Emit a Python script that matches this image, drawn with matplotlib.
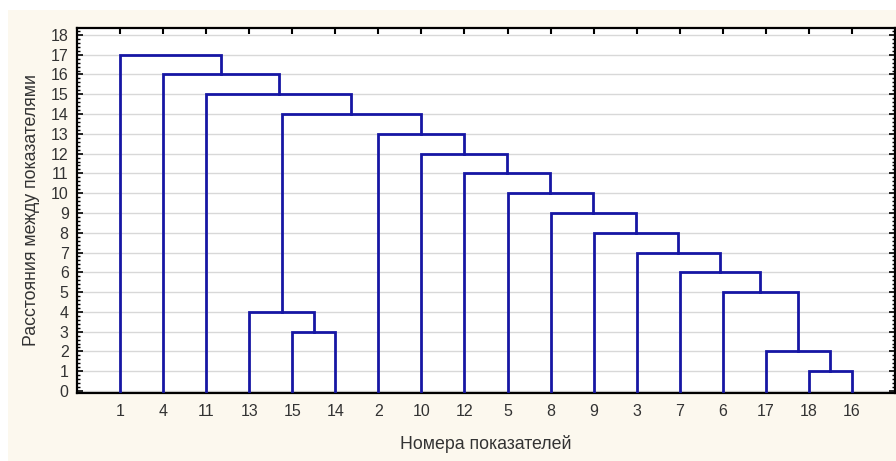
import matplotlib
matplotlib.use("Agg")
import matplotlib.pyplot as plt
from matplotlib.patches import Rectangle
from matplotlib.ticker import MultipleLocator

plt.rcParams['font.family'] = ['Liberation Sans', 'DejaVu Sans']

# Leaf order along the x axis
leaf_labels = ["1", "4", "11", "13", "15", "14", "2", "10", "12",
               "5", "8", "9", "3", "7", "6", "17", "18", "16"]

# Merges: (left cluster, right cluster, joining distance)
# Clusters are referenced by leaf label or by the index "c<k>" of an earlier merge
merge_left = ["18", "17", "6", "7", "3", "9", "8", "5", "12", "10", "2",
              "15", "13", "c12", "11", "4", "1"]
merge_right = ["16", "c0", "c1", "c2", "c3", "c4", "c5", "c6", "c7", "c8", "c9",
               "14", "c11", "c10", "c13", "c14", "c15"]
merge_height = [1, 2, 5, 6, 7, 8, 9, 10, 11, 12, 13,
                3, 4, 14, 15, 16, 17]

y_ticks = list(range(0, 19))

line_color = "#1616a4"
text_color = "#333333"

W, H = 896, 461
fig = plt.figure(figsize=(W / 100, H / 100), dpi=100)
fig.patch.set_facecolor("white")
fig.patches.append(Rectangle((8 / W, 0), 1 - 8 / W, 1 - 10 / H,
                             transform=fig.transFigure, facecolor="#fcf8ee",
                             edgecolor="none", zorder=-10))

ax_left, ax_right, ax_top, ax_bottom = 77, 895, 28, 393
ax = fig.add_axes([ax_left / W, 1 - ax_bottom / H,
                   (ax_right - ax_left) / W, (ax_bottom - ax_top) / H])
ax.set_facecolor("white")

pos = {lab: (i + 1, 0.0) for i, lab in enumerate(leaf_labels)}
for k, (a, b, h) in enumerate(zip(merge_left, merge_right, merge_height)):
    xa, ya = pos[a]
    xb, yb = pos[b]
    ax.plot([xa, xa, xb, xb], [ya, h, h, yb], color=line_color, lw=2.0,
            solid_joinstyle="miter", zorder=3)
    pos["c%d" % k] = ((xa + xb) / 2, h)

ax.set_xlim(0, len(leaf_labels) + 1)
ax.set_ylim(-0.1, 18.35)

ax.set_xticks(range(1, len(leaf_labels) + 1))
ax.set_xticklabels(leaf_labels)
ax.set_yticks(y_ticks)
ax.yaxis.set_minor_locator(MultipleLocator(0.2))

ax.grid(axis="y", color="#d8d8d8", lw=1.0, zorder=0)
ax.set_axisbelow(True)

ax.tick_params(axis="x", which="both", bottom=False, top=True, direction="in",
               length=4, width=1.5, colors="black", labelcolor=text_color,
               labelsize=11.5, pad=8)
ax.tick_params(axis="y", which="major", left=True, right=True, direction="in",
               length=4, width=1.2, labelcolor=text_color, labelsize=11.5, pad=6)
ax.tick_params(axis="y", which="minor", left=True, right=True, direction="in",
               length=2.5, width=1.0)

for s in ax.spines.values():
    s.set_linewidth(1.6)
    s.set_color("black")

ax.set_xlabel("Номера показателей", fontsize=12.8, color=text_color, va="center")
ax.xaxis.set_label_coords(0.5, (ax_bottom - 444) / (ax_bottom - ax_top))
ax.set_ylabel("Расстояния между показателями", fontsize=12.8, color=text_color,
              va="center")
ax.yaxis.set_label_coords((31 - ax_left) / (ax_right - ax_left), 0.5)

fig.savefig("out.png", dpi=100, facecolor=fig.get_facecolor())
